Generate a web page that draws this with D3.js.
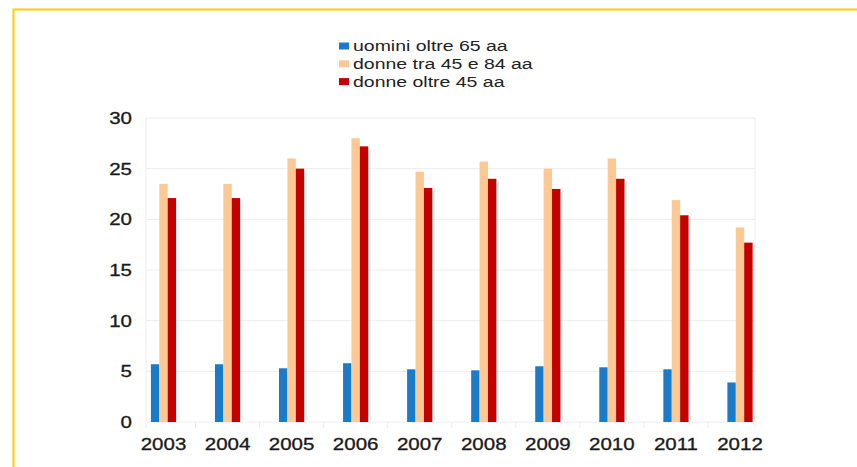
<!DOCTYPE html>
<html>
<head>
<meta charset="utf-8">
<script src="https://cdn.jsdelivr.net/npm/d3@7"></script>
<style>
  body { margin: 0; background: #fff; }
  svg { display: block; font-family: "Liberation Sans", Arial, sans-serif; }
</style>
</head>
<body>
<div id="chart"></div>
<script>
const years = ["2003", "2004", "2005", "2006", "2007", "2008", "2009", "2010", "2011", "2012"];
const seriesNames = ["uomini oltre 65 aa", "donne tra 45 e 84 aa", "donne oltre 45 aa"];
const uomini65 = [5.7, 5.7, 5.3, 5.8, 5.2, 5.1, 5.5, 5.4, 5.2, 3.9];
const donne45_84 = [23.5, 23.5, 26.0, 28.0, 24.7, 25.7, 25.0, 26.0, 21.9, 19.2];
const donne45 = [22.1, 22.1, 25.0, 27.2, 23.1, 24.0, 23.0, 24.0, 20.4, 17.7];
const yTicks = [0, 5, 10, 15, 20, 25, 30];
const colors = ["#1a7bc6", "#fcc894", "#c40000"];

const W = 857, H = 467;
const plot = { left: 146, right: 755, top: 118, bottom: 422 };
const stretch = 1.28; // source image looks horizontally stretched

const svg = d3.select("#chart").append("svg")
    .attr("width", W)
    .attr("height", H);

// yellow frame (goes off right and bottom edges)
svg.append("rect")
    .attr("x", 13.5).attr("y", 9.5)
    .attr("width", W).attr("height", H)
    .attr("fill", "none")
    .attr("stroke", "#ffcc00")
    .attr("stroke-width", 2);

const y = d3.scaleLinear().domain([0, 30]).range([plot.bottom, plot.top]);
const x = d3.scalePoint().domain(years).range([163.5, 740]);
const barW = 8.4;

// horizontal gridlines
svg.append("g").selectAll("line")
    .data(yTicks)
    .enter().append("line")
    .attr("x1", plot.left).attr("x2", plot.right)
    .attr("y1", d => y(d)).attr("y2", d => y(d))
    .attr("stroke", "#ececec");

// plot side borders
svg.append("g").selectAll("line")
    .data([plot.left, plot.right])
    .enter().append("line")
    .attr("x1", d => d).attr("x2", d => d)
    .attr("y1", plot.top).attr("y2", plot.bottom + 6)
    .attr("stroke", "#ececec");

// small ticks below the baseline
svg.append("g").selectAll("line")
    .data(years.slice(0, -1))
    .enter().append("line")
    .attr("x1", d => x(d) + 32).attr("x2", d => x(d) + 32)
    .attr("y1", plot.bottom).attr("y2", plot.bottom + 6)
    .attr("stroke", "#ececec");

function stretchText(sel, k) {
    sel.each(function() {
        const len = this.getComputedTextLength();
        d3.select(this).attr("textLength", len * k).attr("lengthAdjust", "spacingAndGlyphs");
    });
}

// y axis labels
svg.append("g").selectAll("text")
    .data(yTicks)
    .enter().append("text")
    .attr("x", 132)
    .attr("y", d => y(d) + 6)
    .attr("text-anchor", "end")
    .attr("font-size", 16)
    .attr("fill", "#1a1a1a")
    .attr("stroke", "#1a1a1a")
    .attr("stroke-width", 0.3)
    .text(d => d)
    .call(stretchText, stretch);

// x axis labels
svg.append("g").selectAll("text")
    .data(years)
    .enter().append("text")
    .attr("x", d => x(d))
    .attr("y", 450)
    .attr("text-anchor", "middle")
    .attr("font-size", 16)
    .attr("fill", "#1a1a1a")
    .attr("stroke", "#1a1a1a")
    .attr("stroke-width", 0.3)
    .text(d => d)
    .call(stretchText, stretch);

// bars
const allSeries = [uomini65, donne45_84, donne45];
const group = svg.selectAll(".bar-group")
    .data(years)
    .enter().append("g")
    .attr("class", "bar-group")
    .attr("transform", d => "translate(" + x(d) + ",0)");

allSeries.forEach((vals, s) => {
    group.append("rect")
        .attr("x", (s - 1.5) * barW)
        .attr("y", (d, i) => y(vals[i]))
        .attr("width", barW)
        .attr("height", (d, i) => y(0) - y(vals[i]))
        .attr("fill", colors[s]);
});

// legend
const legend = svg.append("g").selectAll("g")
    .data(seriesNames)
    .enter().append("g")
    .attr("transform", (d, i) => "translate(339," + (46 + i * 17.8) + ")");

legend.append("rect")
    .attr("x", 0).attr("y", -3.5)
    .attr("width", 10).attr("height", 7)
    .attr("fill", (d, i) => colors[i]);

legend.append("text")
    .attr("x", 14)
    .attr("y", 5)
    .attr("font-size", 14)
    .attr("fill", "#222")
    .text(d => d)
    .call(stretchText, 1.39);
</script>
</body>
</html>
